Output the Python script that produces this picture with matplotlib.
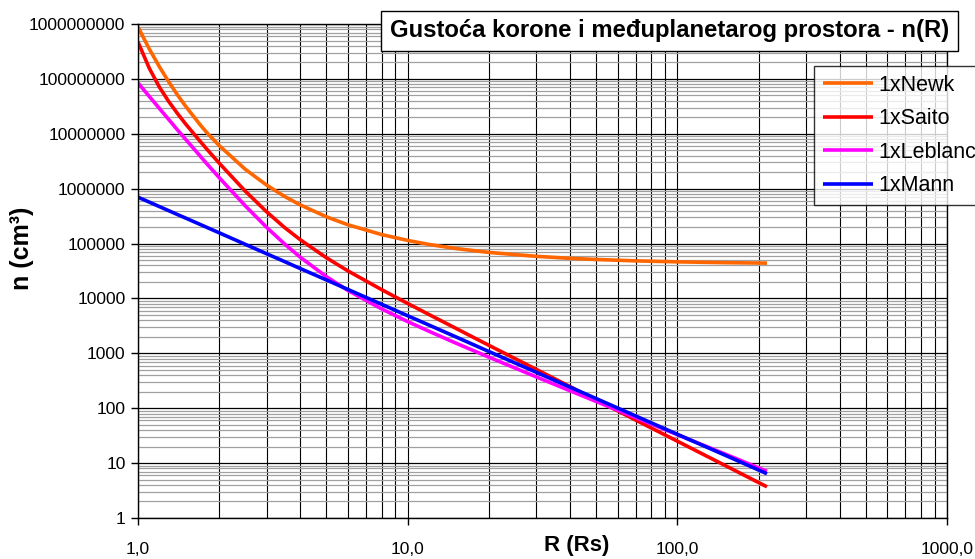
import matplotlib
matplotlib.use("Agg")
import matplotlib.pyplot as plt
from matplotlib.ticker import FixedLocator, LogLocator, NullFormatter, FixedFormatter

plt.rcParams['font.family'] = ['Liberation Sans', 'DejaVu Sans']

# Data
R = [1, 1.1, 1.2, 1.3, 1.4, 1.5, 1.7, 1.8, 2, 2.5, 3, 3.5, 4, 5, 6, 8,
     10, 12, 15, 20, 30, 40, 50, 70, 100, 150, 215]
newk = [8.8e8, 3.55e8, 1.67e8, 8.84e7, 5.12e7, 3.2e7, 1.46e7, 1.05e7, 6.1e6, 2.25e6,
        1.16e6, 7.2e5, 5.05e5, 3.07e5, 2.2e5, 1.46e5,
        1.14e5, 9.63e4, 8.15e4, 6.9e4, 5.85e4, 5.38e4, 5.13e4, 4.84e4, 4.64e4, 4.49e4, 4.4e4]
saito = [4.7e8, 1.58e8, 7.1e7, 3.87e7, 2.35e7, 1.52e7, 7.28e6, 5.25e6, 2.92e6, 9.0e5,
         3.78e5, 1.95e5, 1.17e5, 5.5e4, 3.18e4, 1.45e4,
         8.1e3, 5.09e3, 2.9e3, 1.4e3, 509, 248, 142, 61, 25.1, 9.1, 3.7]
leblanc = [8.44e7, 4.82e7, 2.9e7, 1.82e7, 1.18e7, 7.98e6, 3.93e6, 2.84e6, 1.59e6, 4.86e5,
           1.97e5, 9.77e4, 5.62e4, 2.49e4, 1.40e4, 6.46e3,
           3.79e3, 2.52e3, 1.555e3, 852, 372, 208, 132.7, 67.5, 33.0, 14.7, 7.1]
mann = [7.0e5, 5.7e5, 4.72e5, 3.97e5, 3.38e5, 2.92e5, 2.23e5, 1.97e5, 1.57e5, 9.67e4,
        6.52e4, 4.68e4, 3.5e4, 2.17e4, 1.46e4, 7.84e3,
        4.84e3, 3.27e3, 2.02e3, 1.08e3, 451, 242, 150, 72.4, 33.5, 14.0, 6.4]

series_names = ['1xNewk', '1xSaito', '1xLeblanc', '1xMann']
series_colors = ['#FF6600', '#FF0000', '#FF00FF', '#0000FF']

xticks = [1, 10, 100, 1000]
xtick_labels = ['1,0', '10,0', '100,0', '1000,0']
yticks = [1, 10, 100, 1000, 10000, 100000, 1000000, 10000000, 100000000, 1000000000]
ytick_labels = [str(v) for v in yticks]

title = 'Gustoća korone i međuplanetarog prostora - n(R)'

fig = plt.figure(figsize=(9.75, 5.59), dpi=100)
ax = fig.add_axes([138/975, 1-518/559, (947-138)/975, (518-24)/559])
ax.set_xscale('log')
ax.set_yscale('log')
ax.set_xlim(1, 1000)
ax.set_ylim(1, 1e9)

# grid
ax.xaxis.set_major_locator(FixedLocator(xticks))
ax.xaxis.set_major_formatter(FixedFormatter(xtick_labels))
ax.xaxis.set_minor_locator(LogLocator(base=10, subs=range(2, 10)))
ax.xaxis.set_minor_formatter(NullFormatter())
ax.yaxis.set_major_locator(FixedLocator(yticks))
ax.yaxis.set_major_formatter(FixedFormatter(ytick_labels))
ax.yaxis.set_minor_locator(LogLocator(base=10, subs=range(2, 10)))
ax.yaxis.set_minor_formatter(NullFormatter())

ax.grid(which='minor', axis='y', color='#A0A0A0', linewidth=0.9)
ax.grid(which='major', axis='y', color='black', linewidth=0.9)
ax.grid(which='both', axis='x', color='black', linewidth=0.8)
ax.set_axisbelow(True)

ax.tick_params(axis='both', which='major', direction='out', length=5, width=1,
               labelsize=12.5, colors='black', pad=4)
ax.tick_params(axis='both', which='minor', length=0)
ax.tick_params(axis='x', pad=12)

for s in ax.spines.values():
    s.set_linewidth(1)
    s.set_color('black')

datasets = [newk, saito, leblanc, mann]
lines = []
for d, name, c in zip(datasets, series_names, series_colors):
    l, = ax.plot(R, d, color=c, linewidth=2.6, label=name, solid_capstyle='butt')
    lines.append(l)

# Title box
fig.text(390/975, 1-31/559, title, fontsize=17.2, fontweight='bold', va='center', ha='left',
         bbox=dict(boxstyle='square,pad=0.36', facecolor='white', edgecolor='black', linewidth=1))

# Legend
leg = fig.legend(lines, series_names, loc='upper left', bbox_to_anchor=(814/975, 1-66/559),
                 fontsize=15.5, frameon=True, fancybox=False, edgecolor='black',
                 handlelength=2.35, handletextpad=0.22, labelspacing=0.58, borderpad=0.4,
                 borderaxespad=0)
leg.get_frame().set_linewidth(1)

# Axis labels
fig.text(22/975, 1-248/559, 'n (cm³)', rotation=90, fontsize=18, fontweight='bold',
         ha='center', va='center')
fig.text(577/975, 1-546/559, 'R (Rs)', fontsize=16, fontweight='bold', ha='center', va='center')

fig.savefig('out.png', dpi=100)
